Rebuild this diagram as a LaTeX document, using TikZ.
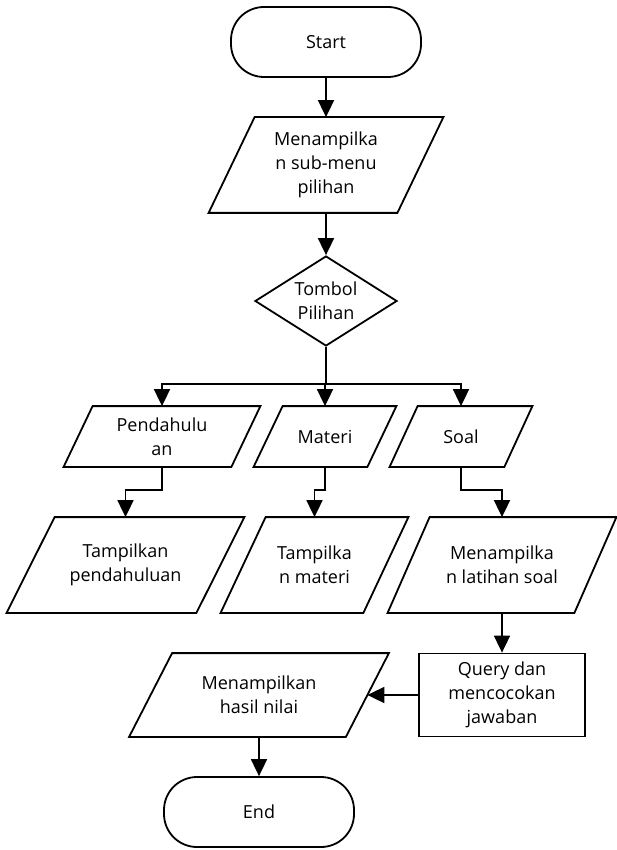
\documentclass[tikz,border=0pt]{standalone}
\usepackage{fontspec}
\setmainfont{Open Sans}
\usetikzlibrary{shapes.geometric,arrows.meta,positioning}
\tikzset{term node/.style={rectangle,rounded corners=33pt,draw,minimum width=190pt,minimum height=70pt},
         io node/.style={rectangle,draw=none,inner sep=2pt,align=center},
         proc node/.style={rectangle,draw,minimum width=166pt,minimum height=83pt,inner sep=2pt,align=center},
         dec node/.style={diamond,draw,aspect=1.58,minimum width=142pt,minimum height=90pt,inner sep=0pt,align=center},
         every node/.style={font=\fontsize{18}{24}\selectfont},
}

\begin{document}
\begin{tikzpicture}[->,>={Triangle[length=17pt,width=16pt]},
x=1pt, y=-1pt,
line width=1.8pt]
% \draw[help lines] (0,0) grid (616,850);
\useasboundingbox (0,0) rectangle (616,850);

\node[term node] (start) at (326,42) {Start};
\node[io node,minimum width=187pt,minimum height=94pt] (menu) at (326,165) {Menampilka\\n sub-menu\\pilihan};
\node[dec node] (pilih) at (326,301) {Tombol\\Pilihan};

\node[io node,minimum width=166pt,minimum height=59pt] (pend) at (162,436.5) {Pendahulu\\an};
\node[io node,minimum width=112pt,minimum height=59pt] (mat) at (325,436.5) {Materi};
\node[io node,minimum width=113pt,minimum height=59pt] (soal) at (461,436.5) {Soal};

\node[io node,minimum width=188pt,minimum height=94pt] (tpend) at (125.5,565) {Tampilkan\\pendahuluan};
\node[io node,minimum width=141pt,minimum height=94pt] (tmat) at (314.5,565) {Tampilka\\n materi};
\node[io node,minimum width=185pt,minimum height=94pt] (tsoal) at (502,565) {Menampilka\\n latihan soal};

\node[proc node] (query) at (502,695) {Query dan\\mencocokan\\jawaban};
\node[io node,minimum width=215pt,minimum height=82pt] (nilai) at (259,695) {Menampilkan\\hasil nilai};
\node[term node] (end) at (259,812) {End};

% slanted sides of the input/output boxes
\foreach \n/\e in {menu/23pt,pend/14.5pt,mat/14.5pt,soal/14pt,tpend/24pt,tmat/22.5pt,tsoal/21pt,nilai/21.5pt}
    \draw[-] ([xshift=\e]\n.north west) -- ([xshift=\e]\n.north east) -- ([xshift=-\e]\n.south east) -- ([xshift=-\e]\n.south west) -- cycle;

\draw (start) -- (menu);
\draw (menu) -- (pilih);
\draw[-] (pilih.south) -- ++(0,37) coordinate (cab);
\draw (cab) -| (pend.north);
\draw (cab) -| (mat.north);
\draw (cab) -| (soal.north);

\draw (pend.south) -- ++(0,23) -| (tpend.north);
\draw (mat.south) -- ++(0,23) -| (tmat.north);
\draw (soal.south) -- ++(0,23) -| (tsoal.north);

\draw (tsoal.south) -- (query.north);
\draw (query.west) -- (nilai.east);
\draw (nilai.south) -- (end.north);
\end{tikzpicture}
\end{document}
